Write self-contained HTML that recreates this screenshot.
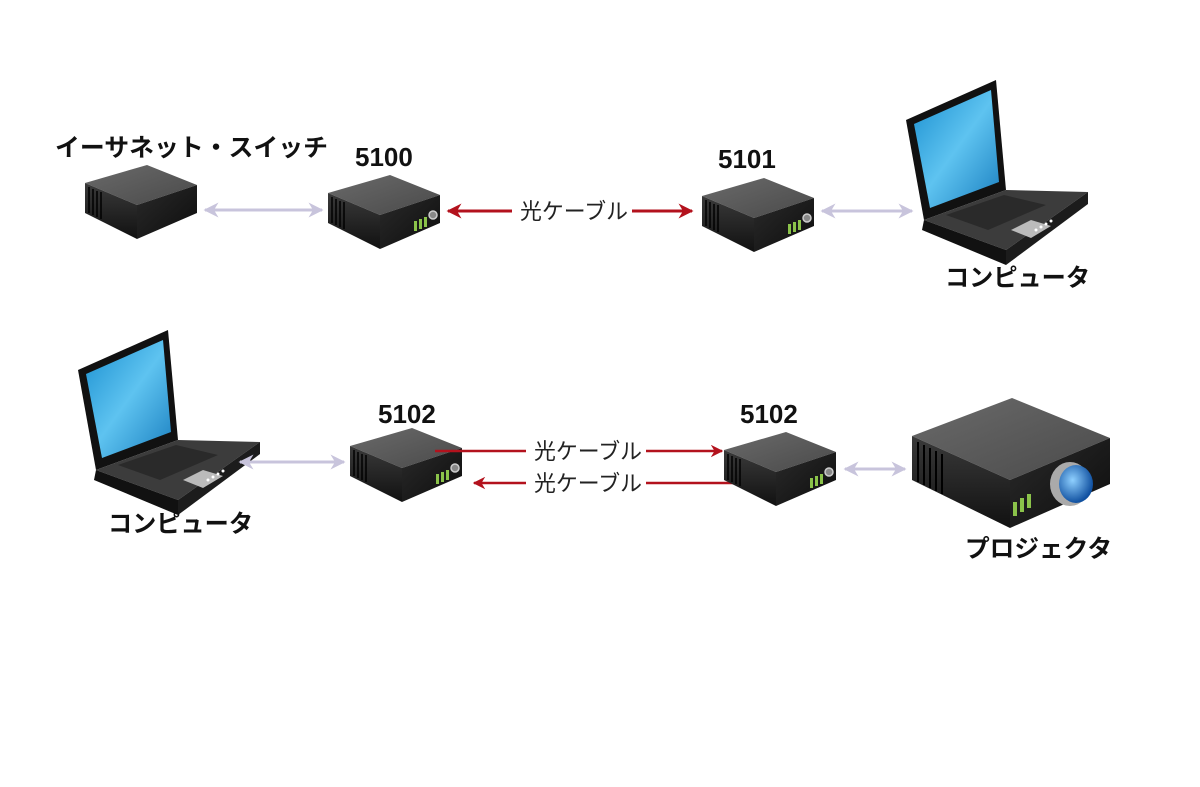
<!DOCTYPE html>
<html><head><meta charset="utf-8"><style>
body{margin:0;background:#fff;}
svg{display:block}
text{font-family:"Liberation Sans","Noto Sans CJK JP",sans-serif;}
.b{font-weight:bold;font-size:24.5px;fill:#111}
.d{font-weight:bold;font-size:26px;fill:#111}
.n{font-size:22px;fill:#222}
</style></head><body>
<svg width="1200" height="787" viewBox="0 0 1200 787" xmlns="http://www.w3.org/2000/svg">
<defs>
<linearGradient id="tp" x1="0" y1="0" x2="1" y2="1"><stop offset="0" stop-color="#6a6a6a"/><stop offset="1" stop-color="#4a4a4a"/></linearGradient>
<linearGradient id="lf" x1="0" y1="0" x2="0" y2="1"><stop offset="0" stop-color="#3a3a3a"/><stop offset="1" stop-color="#111"/></linearGradient>
<linearGradient id="rf" x1="0" y1="0" x2="1" y2="1"><stop offset="0" stop-color="#2a2a2a"/><stop offset="1" stop-color="#0d0d0d"/></linearGradient>
<linearGradient id="scr" x1="0" y1="0" x2="1" y2="1"><stop offset="0" stop-color="#1a8fd0"/><stop offset="0.5" stop-color="#5ec3f0"/><stop offset="1" stop-color="#1a7fc0"/></linearGradient>
<radialGradient id="lens" cx="0.4" cy="0.4" r="0.6"><stop offset="0" stop-color="#8fd0ff"/><stop offset="1" stop-color="#1050a0"/></radialGradient>
<g id="box">
 <polygon points="0,18 62,0 112,20 52,40" fill="url(#tp)"/>
 <polygon points="0,18 52,40 52,74 0,48" fill="url(#lf)"/>
 <polygon points="52,40 112,20 112,48 52,74" fill="url(#rf)"/>
 <g stroke="#000" stroke-width="1.5"><line x1="4" y1="22" x2="4" y2="48"/><line x1="8" y1="24" x2="8" y2="50"/><line x1="12" y1="26" x2="12" y2="52"/><line x1="16" y1="27" x2="16" y2="54"/></g>
</g>
<g id="conv">
 <use href="#box"/>
 <g fill="#8bc34a"><rect x="86" y="46" width="3" height="10"/><rect x="91" y="44" width="3" height="10"/><rect x="96" y="42" width="3" height="10"/></g>
 <circle cx="105" cy="40" r="4" fill="#888" stroke="#ccc" stroke-width="1.5"/>
</g>
<g id="laptop">
 <polygon points="0,40 90,0 100,110 18,140" fill="#111"/>
 <polygon points="8,44 85,10 93,102 24,128" fill="url(#scr)"/>
 <polygon points="18,140 100,110 182,112 100,170" fill="#3c3c3c"/>
 <polygon points="18,140 100,170 100,185 16,150" fill="#111"/>
 <polygon points="100,170 182,112 182,124 100,185" fill="#1c1c1c"/>
 <polygon points="40,135 98,115 140,125 82,150" fill="#2a2a2a"/>
 <polygon points="105,150 125,140 145,146 125,158" fill="#bbb"/>
 <g fill="#fff"><circle cx="130" cy="150" r="1.5"/><circle cx="135" cy="147" r="1.5"/><circle cx="140" cy="144" r="1.5"/><circle cx="145" cy="141" r="1.5"/></g>
</g>
<marker id="ag" viewBox="0 0 10 10" refX="9" refY="5" markerWidth="5" markerHeight="5" orient="auto-start-reverse"><path d="M0,0 L10,5 L0,10 L3,5z" fill="#c8c4dc"/></marker>
<marker id="ar" viewBox="0 0 10 10" refX="9" refY="5" markerWidth="5" markerHeight="5" orient="auto-start-reverse"><path d="M0,0 L10,5 L0,10 L3,5z" fill="#b3121d"/></marker>
</defs>

<!-- row 1 -->
<text class="b" x="55" y="156" textLength="273" lengthAdjust="spacingAndGlyphs">イーサネット・スイッチ</text>
<use href="#box" transform="translate(85,165)"/>
<line x1="205" y1="210" x2="322" y2="210" stroke="#c8c4dc" stroke-width="3" marker-start="url(#ag)" marker-end="url(#ag)"/>
<text class="d" x="355" y="166">5100</text>
<use href="#conv" transform="translate(328,175)"/>
<line x1="448" y1="211" x2="512" y2="211" stroke="#b3121d" stroke-width="3" marker-start="url(#ar)"/>
<text class="n" x="520" y="219" textLength="108" lengthAdjust="spacingAndGlyphs">光ケーブル</text>
<line x1="632" y1="211" x2="692" y2="211" stroke="#b3121d" stroke-width="3" marker-end="url(#ar)"/>
<text class="d" x="718" y="168">5101</text>
<use href="#conv" transform="translate(702,178)"/>
<line x1="822" y1="211" x2="912" y2="211" stroke="#c8c4dc" stroke-width="3" marker-start="url(#ag)" marker-end="url(#ag)"/>
<use href="#laptop" transform="translate(906,80)"/>
<text class="b" x="945" y="286" textLength="145" lengthAdjust="spacingAndGlyphs">コンピュータ</text>

<!-- row 2 -->
<use href="#laptop" transform="translate(78,330)"/>
<text class="b" x="108" y="532" textLength="145" lengthAdjust="spacingAndGlyphs">コンピュータ</text>
<line x1="240" y1="462" x2="344" y2="462" stroke="#c8c4dc" stroke-width="3" marker-start="url(#ag)" marker-end="url(#ag)"/>
<text class="d" x="378" y="423">5102</text>
<use href="#conv" transform="translate(350,428)"/>
<line x1="435" y1="451" x2="526" y2="451" stroke="#b3121d" stroke-width="2.5"/>
<text class="n" x="534" y="459" textLength="108" lengthAdjust="spacingAndGlyphs">光ケーブル</text>
<line x1="646" y1="451" x2="722" y2="451" stroke="#b3121d" stroke-width="2.5" marker-end="url(#ar)"/>
<line x1="474" y1="483" x2="526" y2="483" stroke="#b3121d" stroke-width="2.5" marker-start="url(#ar)"/>
<text class="n" x="534" y="491" textLength="108" lengthAdjust="spacingAndGlyphs">光ケーブル</text>
<line x1="646" y1="483" x2="742" y2="483" stroke="#b3121d" stroke-width="2.5"/>
<text class="d" x="740" y="423">5102</text>
<use href="#conv" transform="translate(724,432)"/>
<line x1="845" y1="469" x2="905" y2="469" stroke="#c8c4dc" stroke-width="3" marker-start="url(#ag)" marker-end="url(#ag)"/>
<g transform="translate(912,398)">
 <polygon points="0,38 100,0 198,40 98,82" fill="url(#tp)"/>
 <polygon points="0,38 98,82 98,130 0,82" fill="url(#lf)"/>
 <polygon points="98,82 198,40 198,86 98,130" fill="url(#rf)"/>
 <g stroke="#000" stroke-width="2"><line x1="6" y1="44" x2="6" y2="84"/><line x1="12" y1="47" x2="12" y2="87"/><line x1="18" y1="50" x2="18" y2="90"/><line x1="24" y1="53" x2="24" y2="93"/><line x1="30" y1="56" x2="30" y2="96"/></g>
 <g fill="#8bc34a"><rect x="101" y="104" width="4" height="14"/><rect x="108" y="100" width="4" height="14"/><rect x="115" y="96" width="4" height="14"/></g>
 <ellipse cx="158" cy="86" rx="20" ry="22" fill="#aaa"/>
 <ellipse cx="164" cy="86" rx="17" ry="19" fill="url(#lens)"/>
</g>
<text class="b" x="965" y="557" textLength="147" lengthAdjust="spacingAndGlyphs">プロジェクタ</text>
</svg>
</body></html>
